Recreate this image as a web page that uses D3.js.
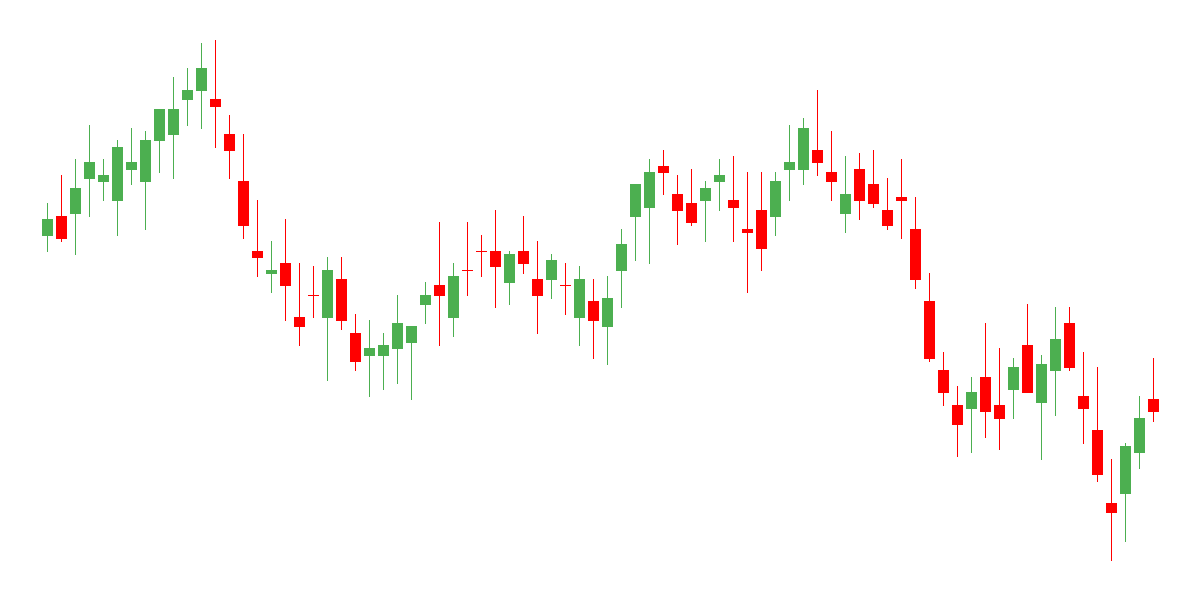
<!DOCTYPE html>
<html>
<head>
<meta charset="utf-8">
<script src="https://cdn.jsdelivr.net/npm/d3@7"></script>
<style>
    body { margin: 0; background: #fff; }
</style>
</head>
<body>
<div id="svg-container"></div>
<script>
const width = 1200;
const height = 600;

// OHLC per session
const open  = [364,384,386,421,418,399,430,418,459,465, 500,509,501,466,419,349,326,337,283,305,
               282,321,267,244,244,251,257,295,315,282, 330,349,349,317,349,321,320,315,282,299,
               273,329,383,392,434,406,397,399,418,400, 371,390,383,430,430,450,428,386,431,416,
               390,403,371,299,230,195,191,223,195,210, 255,197,229,277,204,170,97,106,147,201];
const high  = [397,425,441,475,441,460,472,469,491,523, 532,557,560,485,466,400,359,381,337,334,
               343,343,286,280,267,305,274,318,378,337, 378,365,390,349,384,359,346,337,334,321,
               324,371,416,441,450,425,431,419,441,444, 428,428,428,475,482,510,469,444,447,450,
               422,441,403,327,248,214,223,277,252,242, 296,245,293,293,248,233,141,157,204,242];
const low   = [348,358,345,383,399,364,415,370,427,421, 474,471,452,421,361,323,307,279,254,282,
               219,270,229,203,210,216,200,276,254,263, 304,323,292,295,326,266,301,285,254,241,
               235,292,339,336,405,355,374,358,389,358, 307,329,364,399,415,424,399,367,380,392,
               370,361,311,238,194,143,147,162,150,181, 207,140,184,229,156,118,39,58,131,178];
const close = [381,361,412,438,425,453,438,460,491,491, 510,532,493,449,374,342,330,314,273,305,
               330,279,238,252,255,277,274,305,304,324, 330,349,333,346,336,304,340,315,321,279,
               302,356,416,428,427,389,377,412,425,392, 367,351,419,438,472,437,418,406,399,396,
               374,399,320,241,207,175,208,188,181,233, 207,236,261,232,191,125,87,154,182,188];

const upColor = "#4caf50";
const downColor = "#ff0000";

createChart();

function createChart(){
    const candles = open.map((o, i) => ({i: i, open: o, high: high[i], low: low[i], close: close[i]}));

    const svg = d3.select("#svg-container")
                    .append("svg")
                    .attr("width", width)
                    .attr("height", height);

    const x = d3.scaleLinear().domain([0, candles.length - 1]).range([47.5, 1153.5]);
    const y = d3.scaleLinear().domain([0, 600]).range([600, 0]);
    const bodyWidth = 11;

    const g = svg.append("g").attr("id", "candles");

    const candle = g.selectAll("g")
        .data(candles)
        .enter()
        .append("g")
        .attr("fill", d => d.close > d.open ? upColor : downColor)
        .attr("stroke", d => d.close > d.open ? upColor : downColor);

    candle.append("line")
        .attr("x1", d => x(d.i))
        .attr("x2", d => x(d.i))
        .attr("y1", d => y(d.high))
        .attr("y2", d => y(d.low))
        .attr("stroke-width", 1);

    candle.append("rect")
        .attr("x", d => x(d.i) - bodyWidth / 2)
        .attr("width", bodyWidth)
        .attr("y", d => y(Math.max(d.open, d.close)))
        .attr("height", d => Math.max(1, Math.abs(y(d.open) - y(d.close))))
        .attr("stroke", "none");
}
</script>
</body>
</html>
